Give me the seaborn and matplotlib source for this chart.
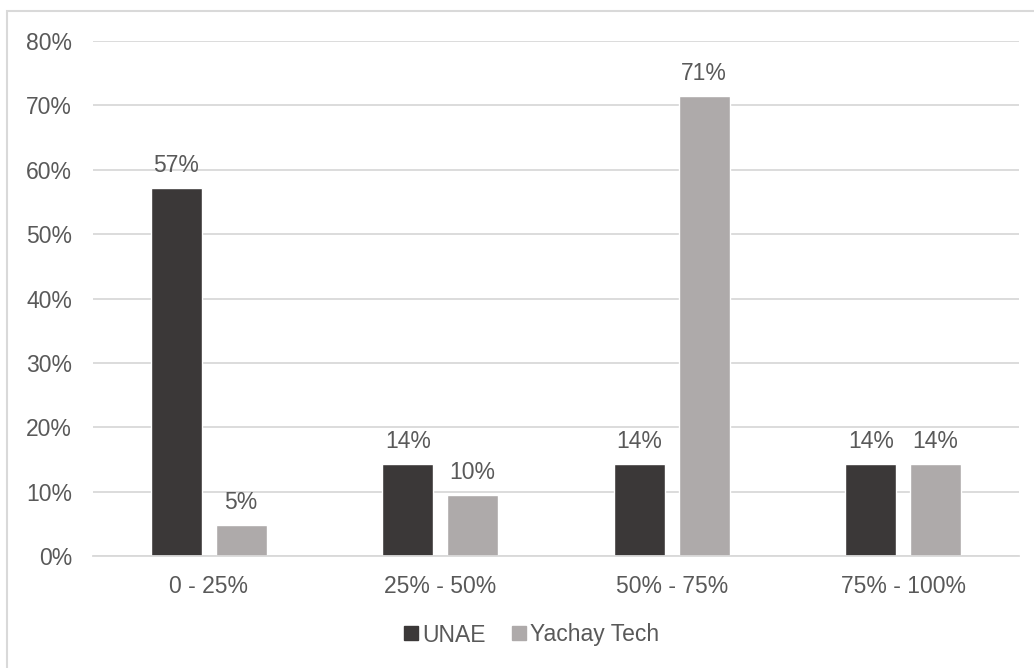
import matplotlib
matplotlib.use("Agg")
import matplotlib.pyplot as plt
from matplotlib.patches import Rectangle
from matplotlib.lines import Line2D
import seaborn as sns
import pandas as pd

# Share of respondents per range, by university (%)
ranges = ["0 - 25%", "25% - 50%", "50% - 75%", "75% - 100%"]
unae = [57.1, 14.3, 14.3, 14.3]
yachay = [4.8, 9.5, 71.4, 14.3]
series_names = ["UNAE", "Yachay Tech"]
y_ticks = [0, 10, 20, 30, 40, 50, 60, 70, 80]

colors = {"UNAE": "#3b3838", "Yachay Tech": "#aeaaaa"}
text_color = "#595959"
grid_color = "#d9d9d9"
fs = 16.5

df = pd.DataFrame({
    "rango": ranges * 2,
    "serie": [series_names[0]] * len(ranges) + [series_names[1]] * len(ranges),
    "valor": unae + yachay,
})

sns.set_theme(style="white")
plt.rcParams["font.family"] = ["Liberation Sans", "DejaVu Sans"]

fig = plt.figure(figsize=(10.34, 6.68), dpi=100)
ax = fig.add_axes([93 / 1034, 1 - 556 / 668, (1019 - 93) / 1034, (556 - 41) / 668])

sns.barplot(data=df, x="rango", y="valor", hue="serie", palette=colors,
            width=0.56, gap=0.215, saturation=1, ax=ax, legend=False,
            errorbar=None)

for container in ax.containers:
    ax.bar_label(container, labels=[f"{v:.0f}%" for v in container.datavalues],
                 padding=8, fontsize=fs, color=text_color)

ax.set_ylim(0, 80)
ax.set_xlim(-0.5, len(ranges) - 0.5)
ax.set_yticks(y_ticks)
ax.set_yticklabels([f"{t}%" for t in y_ticks])
ax.yaxis.grid(True, color=grid_color, linewidth=1.3)
ax.set_axisbelow(True)
for side in ["left", "right", "top"]:
    ax.spines[side].set_visible(False)
ax.spines["bottom"].set_color(grid_color)
ax.spines["bottom"].set_linewidth(1.3)
ax.tick_params(axis="y", length=0, pad=15, labelsize=fs, labelcolor=text_color)
ax.tick_params(axis="x", length=0, pad=14, labelsize=fs, labelcolor=text_color)
ax.set_xlabel("")
ax.set_ylabel("")

handles = [Line2D([], [], marker="s", linestyle="none", markersize=10,
                  markerfacecolor=colors[n], markeredgecolor=colors[n])
           for n in series_names]
fig.legend(handles, series_names, loc="center", bbox_to_anchor=(531 / 1034, 1 - 635 / 668),
           ncol=2, frameon=False, fontsize=fs, labelcolor=text_color,
           handlelength=0.7, handletextpad=0.15, columnspacing=1.1)

# Chart-area border
fig.patches.append(Rectangle((7 / 1034, -0.1), 1.2, (1 - 11 / 668) + 0.1,
                             transform=fig.transFigure, fill=False,
                             edgecolor=grid_color, linewidth=1.5))

fig.savefig("out.png", dpi=100, facecolor="white")
